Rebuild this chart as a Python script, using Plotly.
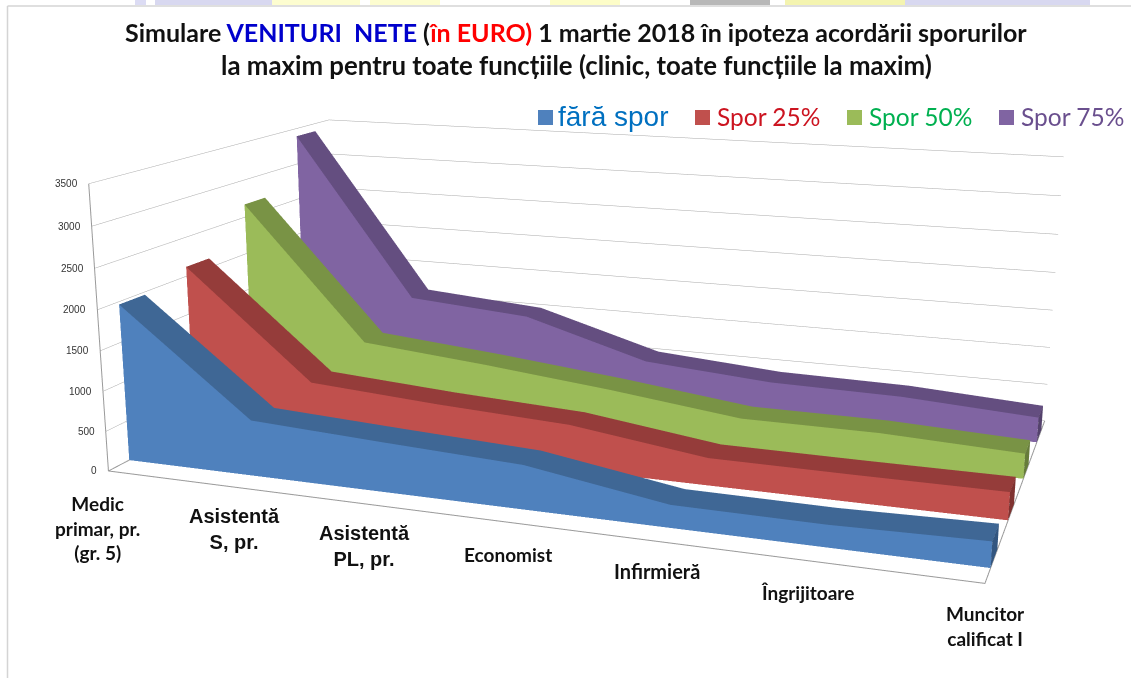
import plotly.graph_objects as go

CATEGORIES = ["Medic<br>primar, pr.<br>(gr. 5)", "Asistentă<br>S, pr.", "Asistentă<br>PL, pr.", "Economist",
              "Infirmieră", "Îngrijitoare", "Muncitor<br>calificat I"]
Z_TICKS = [0, 500, 1000, 1500, 2000, 2500, 3000, 3500]
SERIES_NAMES = ["fără spor", "Spor 25%", "Spor 50%", "Spor 75%"]
FARA_SPOR = [1966, 691, 608, 532, 269, 259, 295]
SPOR_25 = [2122, 754, 645, 563, 339, 332, 333]
SPOR_50 = [2673, 909, 762, 590, 387, 384, 315]
SPOR_75 = [3393, 1188, 1061, 580, 453, 428, 327]

FRONT = ["#4F81BD", "#C0504D", "#9BBB59", "#8064A2"]
TOP = ["#3F6795", "#953C3A", "#799345", "#644E80"]
CAP = ["#335680", "#7F3230", "#667C3A", "#54426C"]
LEGEND_TEXT = ["#0070C0", "#CC1420", "#00B050", "#6A4F8E"]

# Plotly's perspective has a fixed 45 degree field of view, so the long lens of the
# reference needs a tall canvas; the part above the page is shifted out of view.
FIG_W, FIG_H, TOP_OFFSET = 1131, 1490, 390
SERIES_START, SERIES_STEP, SERIES_DEPTH = 0.074, 0.2535, 0.093


def ribbon(values, idx):
    yf = SERIES_START + SERIES_STEP * idx
    yb = yf + SERIES_DEPTH
    n = len(values)
    xs, ys, zs, ii, jj, kk, fc = [], [], [], [], [], [], []
    for k, v in enumerate(values):
        xs += [k, k, k, k]
        ys += [yf, yf, yb, yb]
        zs += [0, v, v, 0]

    def quad(a, b, c, d, col):
        ii.extend([a, a])
        jj.extend([b, c])
        kk.extend([c, d])
        fc.extend([col, col])

    for k in range(n - 1):
        a, b = 4 * k, 4 * (k + 1)
        quad(a, b, b + 1, a + 1, FRONT[idx])
        quad(a + 1, b + 1, b + 2, a + 2, TOP[idx])
    e = 4 * (n - 1)
    quad(e, e + 3, e + 2, e + 1, CAP[idx])
    return go.Mesh3d(x=xs, y=ys, z=zs, i=ii, j=jj, k=kk, facecolor=fc, flatshading=True,
                     name=SERIES_NAMES[idx], hoverinfo="skip", showscale=False,
                     lighting=dict(ambient=1, diffuse=0, specular=0, roughness=1, fresnel=0))


fig = go.Figure()
for i, vals in enumerate([FARA_SPOR, SPOR_25, SPOR_50, SPOR_75]):
    fig.add_trace(ribbon(vals, i))

# box outline: front-left edge, floor front and right edges
x_max, z_max = len(CATEGORIES) - 1, Z_TICKS[-1]
fig.add_trace(go.Scatter3d(x=[0, 0, x_max, x_max], y=[0, 0, 0, 1], z=[z_max, 0, 0, 0], mode="lines",
                           line=dict(color="#9a9a9a", width=2), hoverinfo="skip", showlegend=False))
fig.add_trace(go.Scatter3d(x=[0, 0], y=[0, 1], z=[0, 0], mode="lines",
                           line=dict(color="#9a9a9a", width=2), hoverinfo="skip", showlegend=False))


def py(v):
    return 1 - (v + TOP_OFFSET) / FIG_H


def px(v):
    return v / FIG_W


ann = []
ann.append(dict(x=px(575.5), y=py(32), text="Simulare <span style='color:#0000CC'>VENITURI\u00a0 NETE</span> "
                "(<span style='color:#FF0000'>în EURO)</span> 1 martie 2018 în ipoteza acordării sporurilor",
                font=dict(family="Lato", size=25, color="#111111", weight=700)))
ann.append(dict(x=px(576), y=py(65), text="la maxim pentru toate funcțiile (clinic, toate funcțiile la maxim)",
                font=dict(family="Lato", size=25.8, color="#111111", weight=700)))
legend_x = [(538, 556), (695, 715), (847, 867), (999, 1019)]
shapes = []
for i, (sx, tx) in enumerate(legend_x):
    shapes.append(dict(type="rect", xref="paper", yref="paper", x0=px(sx), x1=px(sx + 15), y0=py(125), y1=py(110),
                       fillcolor=FRONT[i], line=dict(width=0)))
    ann.append(dict(x=px(tx), y=py(116), xanchor="left", text=SERIES_NAMES[i],
                    font=dict(family="Liberation Sans" if i == 0 else "Lato", size=28 if i == 0 else 24.5,
                              color=LEGEND_TEXT[i])))
for a in ann:
    a.update(xref="paper", yref="paper", showarrow=False)
    a.setdefault("xanchor", "center")
    a.setdefault("yanchor", "middle")

# page frame and the strip of the slide behind it
shapes.append(dict(type="line", xref="paper", yref="paper", x0=px(7.5), x1=px(7.5), y0=py(6), y1=py(678),
                   line=dict(color="#d4d4d4", width=1.5)))
shapes.append(dict(type="line", xref="paper", yref="paper", x0=px(7.5), x1=1, y0=py(6), y1=py(6),
                   line=dict(color="#d4d4d4", width=1.5)))
for x0, x1, c in [(135, 146, "#dcdcf4"), (155, 272, "#d8d8f0"), (272, 360, "#fdfdd0"), (370, 440, "#fdfdd0"),
                  (550, 620, "#fdfdc8"), (690, 770, "#b8b8b8"), (785, 905, "#f4f4b0"), (905, 1090, "#d8d8f0")]:
    shapes.append(dict(type="rect", xref="paper", yref="paper", x0=px(x0), x1=px(x1), y0=py(5), y1=py(0),
                       fillcolor=c, line=dict(width=0), layer="below"))

tick_ann = [dict(x=0, y=0, z=v, text=str(v), showarrow=False, xanchor="right", yanchor="middle", xshift=-9,
                 font=dict(family="Liberation Sans", size=10, color="#333333")) for v in Z_TICKS]
LABEL_SHIFT = [(-11, -57), (0, -42), (-3, -42), (-1, -32), (-1, -30), (-9, -31), (1, -43)]
LABEL_FONT = ["Lato", "Liberation Sans", "Liberation Sans", "Lato", "Lato", "Lato", "Lato"]
LABEL_SIZE = [19, 20, 20, 19, 20, 19, 19]
cat_ann = [dict(x=k, y=0, z=0, text=c, showarrow=False, xanchor="center", yanchor="middle",
                xshift=LABEL_SHIFT[k][0], yshift=LABEL_SHIFT[k][1],
                font=dict(family=LABEL_FONT[k], size=LABEL_SIZE[k], color="#111111", weight=700))
           for k, c in enumerate(CATEGORIES)]

hidden = dict(showgrid=False, showticklabels=False, zeroline=False, showline=False, ticks="", title="",
              showbackground=False, showspikes=False)
eye = (2.014, -5.8535, 1.4818)
back = (0.3313, -0.9078, 0.2571)
up = (-0.0883, 0.2414, 0.9664)
d = sum(e * e for e in eye) ** 0.5
center = tuple(e - d * b for e, b in zip(eye, back))
fig.update_layout(
    width=FIG_W, height=FIG_H, autosize=False, margin=dict(l=0, r=0, t=0, b=0), paper_bgcolor="white",
    showlegend=False, annotations=ann, shapes=shapes,
    scene=dict(
        domain=dict(x=[0, 1], y=[0, 1]),
        aspectmode="manual", aspectratio=dict(x=2.9736, y=1.718, z=1),
        xaxis=dict(range=[0, x_max], **hidden),
        yaxis=dict(range=[0, 1], **hidden),
        zaxis=dict(range=[0, z_max + 0.5], tickvals=Z_TICKS, showgrid=True, gridcolor="#a8a8a8", gridwidth=1,
                   showticklabels=False, zeroline=False, showline=False, ticks="", title="",
                   showbackground=False, showspikes=False),
        camera=dict(eye=dict(x=eye[0], y=eye[1], z=eye[2]), center=dict(x=center[0], y=center[1], z=center[2]),
                    up=dict(x=up[0], y=up[1], z=up[2]), projection=dict(type="perspective")),
        annotations=tick_ann + cat_ann,
    ),
)
page_fit = ("document.documentElement.style.overflow='hidden';document.body.style.margin='0';"
            "document.getElementById('{plot_id}').style.marginTop='-%dpx';" % TOP_OFFSET)
fig.write_html("out.html", config=dict(displayModeBar=False), post_script=page_fit)
